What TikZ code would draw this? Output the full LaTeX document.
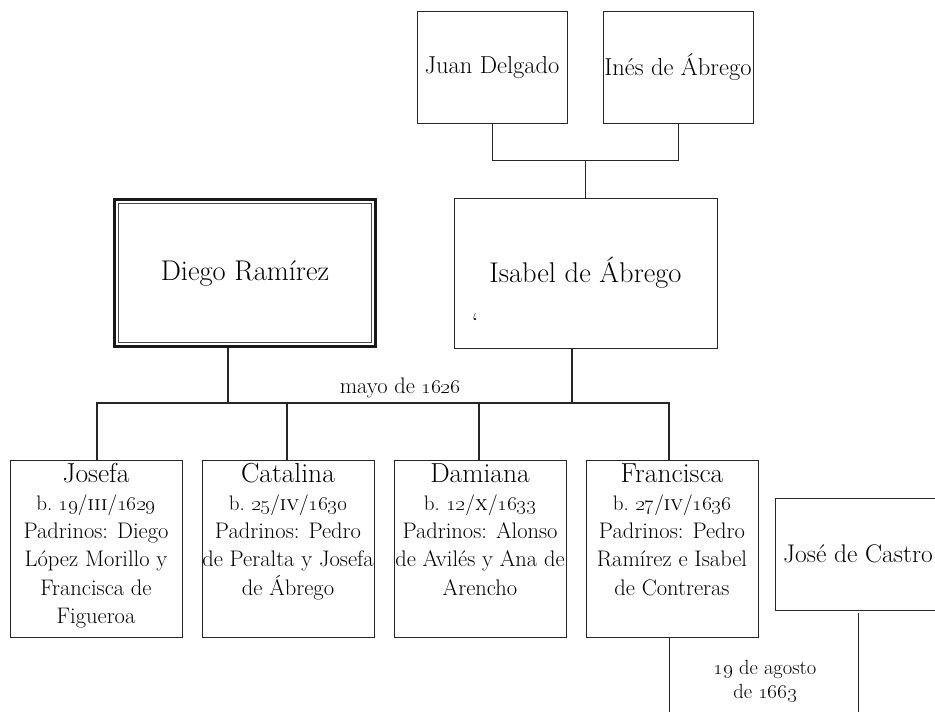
\documentclass[tikz,border=0pt]{standalone}
\usetikzlibrary{positioning}

\newcommand{\bapt}[3]{{\fontsize{21}{28.3}\selectfont b.~\oldstylenums{#1}/\textsc{#2}/\oldstylenums{#3}}}
\newcommand{\childtext}[2]{\parbox[c][177pt][t]{172pt}{\centering
  {\fontsize{27.5}{29}\selectfont\rule{0pt}{22pt}#1\par}
  \fontsize{22.5}{28.3}\selectfont #2}}

\begin{document}
\begin{tikzpicture}[x=1pt, y=-1pt,
	person/.style={draw=black!85, thick, rectangle, inner sep=0pt, align=center},
	kid/.style={draw=black!85, thick, rectangle, inner sep=0pt},
	kin/.style={draw=black!85, line width=2pt},
	link/.style={draw=black!85, thick}]
	
	\useasboundingbox (0,0) rectangle (935,712);
	\clip (0,0) rectangle (935,712);
	
	% grandparents
	\node[person, minimum width=150pt, minimum height=112pt, font=\fontsize{24.5}{28}\selectfont] (juan) at (492,67) {Juan Delgado};
	\node[person, minimum width=150pt, minimum height=112pt, font=\fontsize{24.5}{28}\selectfont] (ines) at (678,67) {Inés de Ábrego};
	
	% parents
	\node[person, line width=3.3pt, draw=black!90, minimum width=260.6pt, minimum height=146.6pt, font=\fontsize{28.5}{32}\selectfont] (diego) at (245,273) {Diego Ramírez};
	\draw[black!70, line width=0.8pt] ([shift={(5.8pt,-5.8pt)}]diego.north west) rectangle ([shift={(-5.8pt,5.8pt)}]diego.south east);
	\node[person, minimum width=263pt, minimum height=150pt, font=\fontsize{28.5}{32}\selectfont] (isabel) at (585.5,273) {Isabel de Ábrego};
	\node[font=\fontsize{26}{26}\selectfont, inner sep=0pt] (tick) at (475,322) {`};
	
	% children
	\node[kid] (josefa) at (96,548.5) {\childtext{Josefa}{\bapt{19}{iii}{1629}\\Padrinos: Diego\\López Morillo y\\Francisca de\\Figueroa}};
	\node[kid] (catalina) at (288,548.5) {\childtext{Catalina}{\bapt{25}{iv}{1630}\\Padrinos: Pedro\\de Peralta y Josefa\\de Ábrego}};
	\node[kid] (damiana) at (480,548.5) {\childtext{Damiana}{\bapt{12}{x}{1633}\\Padrinos: Alonso\\de Avilés y Ana de\\Arencho}};
	\node[kid] (francisca) at (672,548.5) {\childtext{Francisca}{\bapt{27}{iv}{1636}\\Padrinos: Pedro\\Ramírez e Isabel\\de Contreras}};
	
	\node[person, minimum width=166pt, minimum height=112pt, font=\fontsize{25.5}{29}\selectfont] (jose) at (858,554) {José de Castro};
	
	% connectors
	\coordinate (bar) at (400,403);
	\draw[link] (juan.south) |- ([yshift=37pt]isabel.north) -| (ines.south);
	\draw[link] (isabel.north) -- ++(0,-37);
	
	\draw[kin] ([xshift=-17pt]diego.south) -- ([xshift=-17pt]diego.south |- bar);
	\draw[kin] ([xshift=-13.5pt]isabel.south) -- ([xshift=-13.5pt]isabel.south |- bar);
	\draw[kin] ([xshift=1pt]josefa.north) |- ([xshift=-3pt]francisca.north |- bar) -- ([xshift=-3pt]francisca.north);
	\draw[kin] ([xshift=-1pt]catalina.north) -- ([xshift=-1pt]catalina.north |- bar);
	\draw[kin] ([xshift=-1pt]damiana.north) -- ([xshift=-1pt]damiana.north |- bar);
	\node[anchor=base, font=\fontsize{22.5}{26}\selectfont] (boda) at (400,393) {mayo de \oldstylenums{1626}};
	
	\draw[link] ([xshift=-3pt]francisca.south) -- ++(0,90);
	\draw[link] ([yshift=-3pt]jose.south) -- ++(0,110);
	\node[align=center, font=\fontsize{20.5}{24}\selectfont] (casamiento) at (765,681) {\oldstylenums{19} de agosto\\de \oldstylenums{1663}};
	
\end{tikzpicture}
\end{document}
